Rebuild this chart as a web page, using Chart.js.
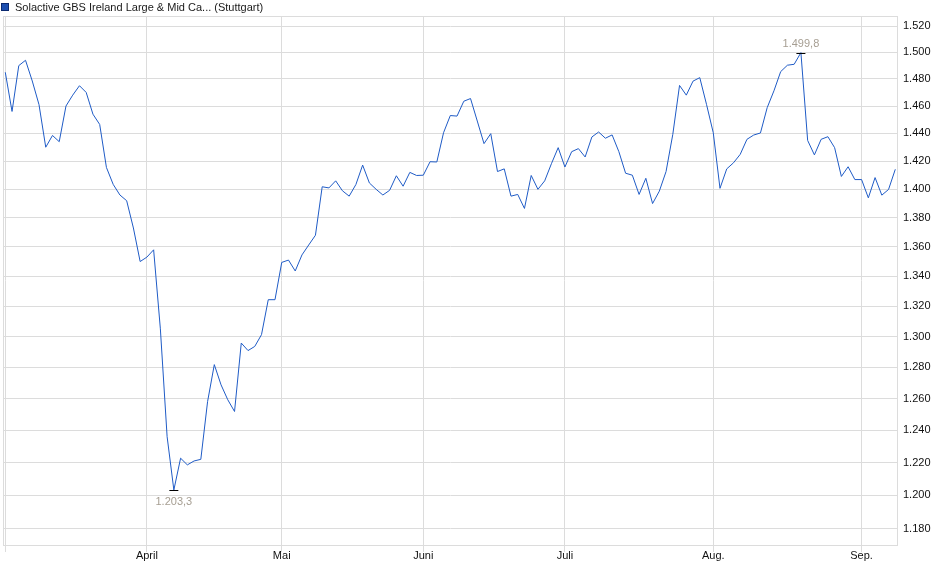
<!DOCTYPE html>
<html lang="de">
<head>
<meta charset="utf-8">
<title>Solactive GBS Ireland Large &amp; Mid Cap (Stuttgart)</title>
<script src="https://cdn.jsdelivr.net/npm/chart.js@4.4.1/dist/chart.umd.min.js"></script>
<style>
    html, body { margin: 0; padding: 0; background: #fff; }
</style>
</head>
<body>
<canvas id="indexChart" width="940" height="579"></canvas>
<script>
const seriesName = 'Solactive GBS Ireland Large & Mid Ca... (Stuttgart)';

// daily closes (Index points)
const closes = [
    1485, 1456, 1490, 1494, 1478.5, 1461, 1430, 1438.5, 1434, 1460,
    1468, 1475, 1470, 1454, 1446.5, 1415.5, 1403.5, 1396, 1392, 1373,
    1350, 1353, 1358, 1305, 1236, 1203.3, 1222.7, 1218.6, 1221, 1222,
    1258, 1281.7, 1268.7, 1259.2, 1251.8, 1295.7, 1290.8, 1293.5, 1301.2, 1324.3,
    1324.3, 1349.4, 1351, 1343.6, 1354.5, 1361.3, 1368, 1401.8, 1401, 1406,
    1399, 1395.2, 1403.4, 1417.2, 1404.5, 1400, 1396, 1399.3, 1409.6, 1402.2,
    1412, 1409.8, 1410, 1419.6, 1419.4, 1440.5, 1453, 1452.6, 1463.5, 1465.5,
    1449, 1432.6, 1439.8, 1412.6, 1414.5, 1395.2, 1396.4, 1386.6, 1409.8, 1400,
    1406, 1418.2, 1429.7, 1415.8, 1426.8, 1429, 1423, 1437.4, 1441, 1436.5,
    1438.9, 1426.8, 1411.4, 1410, 1396.4, 1407.8, 1390, 1398.7, 1412.6, 1439.3,
    1475.2, 1468, 1478.4, 1481, 1461.2, 1440.5, 1400.7, 1414.5, 1418.8, 1424.9,
    1435.7, 1438.8, 1440.3, 1458.8, 1471.2, 1485.5, 1490.3, 1491, 1499.8, 1434.9,
    1424.5, 1435.7, 1437.6, 1429.7, 1409.1, 1416, 1406.9, 1406.9, 1394, 1408.3,
    1395.9, 1399.9, 1414.2
];

// first trading day of each month (index into closes)
const monthStarts = [0, 21, 41, 62, 83, 105, 127];
const monthLabels = ['', 'April', 'Mai', 'Juni', 'Juli', 'Aug.', 'Sep.'];

const yTicks = [1180, 1200, 1220, 1240, 1260, 1280, 1300, 1320, 1340,
                1360, 1380, 1400, 1420, 1440, 1460, 1480, 1500, 1520];

const gridColor = '#dcdcdc';
const lineColor = '#1f5bc6';
const fontFamily = '"Liberation Sans", Arial, sans-serif';

const fmtAxis = new Intl.NumberFormat('de-DE', { maximumFractionDigits: 0 });
const fmtValue = new Intl.NumberFormat('de-DE', { minimumFractionDigits: 1, maximumFractionDigits: 1 });

const points = closes.map((v, i) => ({ x: i, y: v }));

// frame round the plot area
const framePlugin = {
    id: 'frame',
    beforeDatasetsDraw(chart) {
        const { ctx, chartArea: a } = chart;
        ctx.save();
        ctx.strokeStyle = gridColor;
        ctx.lineWidth = 1;
        ctx.strokeRect(Math.round(a.left) + 0.5, Math.round(a.top) + 0.5,
            Math.round(a.right - a.left) - 1, Math.round(a.bottom - a.top));
        ctx.restore();
    }
};

// small legend in the top left corner
const legendPlugin = {
    id: 'miniLegend',
    afterDraw(chart) {
        const ctx = chart.ctx;
        ctx.save();
        ctx.fillStyle = '#1c4fb0';
        ctx.fillRect(1, 3, 8, 8);
        ctx.strokeStyle = '#0b2a70';
        ctx.strokeRect(1.5, 3.5, 7, 7);
        ctx.fillStyle = '#1a1a1a';
        ctx.font = '11px ' + fontFamily;
        ctx.textBaseline = 'middle';
        ctx.fillText(seriesName, 15, 7.5);
        ctx.restore();
    }
};

// high / low markers with their values
const extremesPlugin = {
    id: 'extremes',
    afterDatasetsDraw(chart) {
        const { ctx, scales } = chart;
        const hi = closes.indexOf(Math.max(...closes));
        const lo = closes.indexOf(Math.min(...closes));
        ctx.save();
        ctx.font = '11px ' + fontFamily;
        ctx.textAlign = 'center';
        ctx.textBaseline = 'middle';
        [[hi, -10], [lo, 11]].forEach(([i, dy]) => {
            const px = scales.x.getPixelForValue(i);
            const py = Math.round(scales.y.getPixelForValue(closes[i])) + 0.5;
            ctx.strokeStyle = '#000';
            ctx.lineWidth = 1;
            ctx.beginPath();
            ctx.moveTo(px - 4.5, py);
            ctx.lineTo(px + 4.5, py);
            ctx.stroke();
            ctx.fillStyle = '#a69e92';
            ctx.fillText(fmtValue.format(closes[i]), px, py + dy);
        });
        ctx.restore();
    }
};

const ctx = document.getElementById('indexChart').getContext('2d');
const indexChart = new Chart(ctx, {
    type: 'line',
    data: {
        datasets: [{
            label: seriesName,
            data: points,
            borderColor: lineColor,
            borderWidth: 1,
            pointRadius: 0,
            tension: 0,
            fill: false
        }]
    },
    options: {
        responsive: false,
        animation: false,
        devicePixelRatio: 1,
        layout: { padding: { left: 3, top: 16, right: 0, bottom: 0 } },
        plugins: {
            legend: { display: false },
            tooltip: { enabled: false }
        },
        scales: {
            x: {
                type: 'linear',
                min: -0.34,
                max: 132.4,
                afterBuildTicks(scale) {
                    scale.ticks = monthStarts.map(v => ({ value: v }));
                },
                afterFit(scale) { scale.height = 34; },
                grid: { color: gridColor, tickLength: 7, tickColor: gridColor },
                border: { display: false },
                ticks: {
                    autoSkip: false,
                    maxRotation: 0,
                    padding: -3,
                    color: '#111',
                    font: { family: fontFamily, size: 11 },
                    callback: (v) => monthLabels[monthStarts.indexOf(v)] ?? ''
                }
            },
            y: {
                type: 'logarithmic',
                position: 'right',
                min: 1170.4,
                max: 1527.7,
                afterBuildTicks(scale) {
                    scale.ticks = yTicks.map(v => ({ value: v }));
                },
                afterFit(scale) { scale.width = 42; },
                grid: { color: gridColor, drawTicks: false },
                border: { display: false },
                ticks: {
                    padding: 5,
                    color: '#111',
                    font: { family: fontFamily, size: 11 },
                    callback: (v) => fmtAxis.format(v)
                }
            }
        }
    },
    plugins: [framePlugin, legendPlugin, extremesPlugin]
});
</script>
</body>
</html>
